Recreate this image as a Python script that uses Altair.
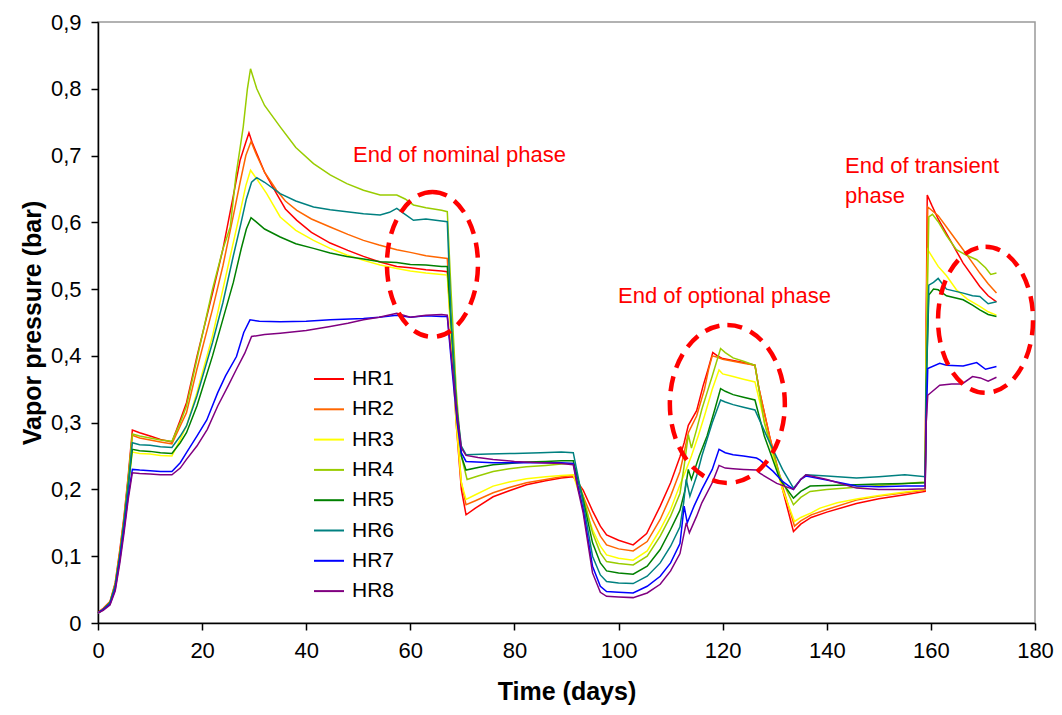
import altair as alt
import pandas as pd

SERIES = ["HR1", "HR2", "HR3", "HR4", "HR5", "HR6", "HR7", "HR8"]
COLORS = ["#FF0000", "#FF6600", "#FFFF00", "#99CC00", "#008000", "#008080", "#0000FF", "#800080"]

T1 = [0, 1, 2.3, 3.3, 4.2, 5.0, 5.8, 6.6, 8, 10, 12, 14.2, 15.8, 17, 19, 22, 24, 26, 27.3, 28.4, 29.0, 29.6, 30.5, 32, 34.3, 36, 38.2, 41, 44.6, 48, 51, 54, 57.4, 60, 63, 66, 67.1, 67.8, 68.8, 69.8, 70.7, 72.5, 75.9, 79, 82.3, 86, 89, 91.3, 92.2, 93.2, 95, 96.5, 97.7, 100, 102.8, 105.4, 108, 110, 111.8, 112.6, 113.4, 115, 116.2, 117.2, 118.1, 119, 120, 122, 124, 126.2, 127, 129, 131.5, 133.6, 135, 137, 140, 145.7, 150, 155, 158.9, 159.1, 159.3, 160.2, 161.4, 163, 166.2, 169.4, 171, 172.6]
V1 = [0.016, 0.022, 0.032, 0.06, 0.11, 0.16, 0.22, 0.289, 0.285, 0.28, 0.275, 0.271, 0.304, 0.33, 0.399, 0.494, 0.56, 0.64, 0.693, 0.72, 0.734, 0.72, 0.703, 0.675, 0.643, 0.62, 0.603, 0.585, 0.569, 0.558, 0.549, 0.541, 0.534, 0.532, 0.529, 0.527, 0.526, 0.44, 0.3, 0.2, 0.162, 0.172, 0.189, 0.198, 0.207, 0.213, 0.217, 0.219, 0.21, 0.199, 0.168, 0.145, 0.132, 0.124, 0.117, 0.134, 0.175, 0.21, 0.249, 0.27, 0.296, 0.318, 0.354, 0.38, 0.405, 0.4, 0.396, 0.393, 0.39, 0.386, 0.35, 0.28, 0.2, 0.137, 0.148, 0.158, 0.166, 0.179, 0.186, 0.192, 0.197, 0.45, 0.641, 0.625, 0.605, 0.583, 0.539, 0.504, 0.49, 0.481]

T2 = [0, 1, 2.3, 3.3, 4.2, 5.0, 5.8, 6.6, 8, 10, 12, 14.2, 15.8, 17, 19, 22, 24, 26, 27.3, 28.4, 29.4, 30.5, 32, 34.3, 36, 38.2, 41, 44.6, 48, 51, 54, 57.4, 60, 63, 66, 67.1, 67.8, 68.8, 69.8, 70.7, 72.5, 75.9, 79, 82.3, 86, 89, 91.3, 92.2, 93.2, 95, 96.5, 97.7, 100, 102.8, 105.5, 108, 110, 111.8, 112.6, 113.4, 115, 116.5, 117.3, 118, 119, 120, 122, 124, 126.2, 127, 129, 131.5, 133.8, 135, 137, 140, 145.7, 150, 155, 158.9, 159.1, 159.4, 161.4, 163, 166.2, 169.4, 171, 172.6]
V2 = [0.015, 0.021, 0.031, 0.058, 0.105, 0.155, 0.215, 0.281, 0.277, 0.274, 0.271, 0.268, 0.295, 0.315, 0.38, 0.47, 0.535, 0.61, 0.66, 0.7, 0.721, 0.7, 0.675, 0.648, 0.632, 0.618, 0.605, 0.593, 0.582, 0.573, 0.566, 0.559, 0.555, 0.55, 0.547, 0.546, 0.45, 0.31, 0.21, 0.177, 0.183, 0.195, 0.203, 0.21, 0.215, 0.219, 0.221, 0.205, 0.19, 0.155, 0.13, 0.117, 0.111, 0.108, 0.122, 0.155, 0.19, 0.227, 0.255, 0.285, 0.31, 0.35, 0.38, 0.40, 0.398, 0.395, 0.392, 0.389, 0.386, 0.35, 0.28, 0.205, 0.145, 0.153, 0.162, 0.17, 0.184, 0.19, 0.195, 0.199, 0.45, 0.623, 0.61, 0.593, 0.559, 0.524, 0.508, 0.494]

T3 = [0, 1, 2.3, 3.3, 4.2, 5.0, 5.8, 6.6, 8, 10, 12, 14.2, 15.8, 17, 19, 22, 24, 26, 27.3, 28.4, 29.3, 30.5, 32.4, 35, 38, 41.4, 44.6, 47.8, 51, 54.2, 57.4, 60, 63, 66, 67.1, 67.8, 68.8, 69.8, 70.7, 72.5, 75.9, 79, 82.3, 86, 89, 91.3, 92.2, 93.2, 95, 96.5, 97.7, 100, 102.8, 105.5, 108, 110, 111.8, 113, 114, 115.3, 116.5, 118, 119.3, 120, 122, 124, 126.2, 127, 129, 131.5, 133.8, 135, 137, 138.7, 142, 146, 150, 155, 158.9, 159.1, 159.4, 161.4, 163, 164.9, 167, 169.4, 171, 172.6]
V3 = [0.015, 0.02, 0.03, 0.055, 0.1, 0.15, 0.205, 0.256, 0.254, 0.253, 0.251, 0.25, 0.275, 0.295, 0.345, 0.43, 0.5, 0.57, 0.615, 0.655, 0.678, 0.665, 0.643, 0.608, 0.588, 0.573, 0.561, 0.551, 0.543, 0.536, 0.531, 0.527, 0.524, 0.522, 0.521, 0.43, 0.3, 0.21, 0.185, 0.192, 0.205, 0.211, 0.216, 0.219, 0.221, 0.222, 0.2, 0.18, 0.14, 0.115, 0.102, 0.097, 0.094, 0.108, 0.14, 0.17, 0.207, 0.23, 0.25, 0.28, 0.31, 0.35, 0.379, 0.373, 0.369, 0.365, 0.361, 0.335, 0.27, 0.2, 0.152, 0.158, 0.165, 0.172, 0.18, 0.186, 0.191, 0.196, 0.2, 0.4, 0.559, 0.534, 0.52, 0.499, 0.485, 0.474, 0.466, 0.461]

T4 = [0, 1, 2.3, 3.3, 4.2, 5.0, 5.8, 6.6, 8, 10, 12, 14.2, 15.8, 17, 19, 22, 24, 25.4, 26.5, 27.9, 28.7, 29.3, 30.5, 32, 35, 38, 41.4, 44.6, 47.8, 51, 54.2, 57.4, 59, 60.6, 63, 66, 67.1, 67.8, 68.8, 69.8, 70.9, 73, 75.9, 79, 82.3, 86, 89, 91.3, 92.2, 93.2, 95, 96.5, 97.7, 100, 102.8, 105.5, 108, 110, 111.8, 112.6, 113.4, 114, 115, 116, 117, 118, 119.6, 120.5, 122, 124, 126.2, 128, 131, 133.6, 135, 136.8, 140, 145, 150, 155, 158.9, 159.1, 159.6, 160.3, 161.4, 163, 164.9, 166.5, 168.8, 170.5, 171.5, 172.6]
V4 = [0.015, 0.021, 0.031, 0.057, 0.105, 0.155, 0.215, 0.283, 0.28, 0.277, 0.274, 0.272, 0.3, 0.325, 0.395, 0.5, 0.56, 0.593, 0.67, 0.743, 0.8, 0.83, 0.8, 0.775, 0.743, 0.712, 0.688, 0.671, 0.658, 0.648, 0.641, 0.641, 0.635, 0.626, 0.622, 0.618, 0.616, 0.5, 0.35, 0.25, 0.215, 0.22, 0.227, 0.231, 0.234, 0.236, 0.238, 0.239, 0.215, 0.19, 0.135, 0.105, 0.092, 0.089, 0.087, 0.1, 0.13, 0.16, 0.194, 0.235, 0.282, 0.262, 0.29, 0.32, 0.345, 0.37, 0.411, 0.405, 0.397, 0.392, 0.386, 0.3, 0.22, 0.177, 0.188, 0.197, 0.2, 0.203, 0.206, 0.209, 0.211, 0.4, 0.608, 0.612, 0.601, 0.58, 0.559, 0.552, 0.544, 0.532, 0.522, 0.524]

T5 = [0, 1, 2.3, 3.3, 4.2, 5.0, 5.8, 6.6, 8, 10, 12, 14.2, 15.8, 17, 19, 22, 24, 26, 27.5, 28.5, 29.4, 30.5, 32, 35, 38, 41.4, 44.6, 47.8, 51, 54.2, 57.4, 60, 63, 66, 67.1, 67.8, 68.8, 69.8, 70.7, 73, 75.9, 79, 82.3, 86, 89, 91.3, 92.2, 93.2, 95, 96.5, 97.7, 100, 102.8, 105.5, 108, 110, 111.8, 112.8, 113.4, 114, 115.5, 117, 118.5, 119.6, 120.5, 122, 124, 126.2, 128, 131, 133.6, 135, 136.8, 140, 145.7, 150, 155, 158.9, 159.1, 159.6, 160.5, 161.4, 163, 166.2, 168, 169.4, 171, 172.6]
V5 = [0.015, 0.02, 0.03, 0.055, 0.1, 0.15, 0.205, 0.26, 0.258, 0.257, 0.255, 0.254, 0.27, 0.285, 0.325, 0.4, 0.455, 0.51, 0.56, 0.59, 0.607, 0.6, 0.59, 0.578, 0.568, 0.561, 0.554, 0.549, 0.545, 0.541, 0.54, 0.537, 0.536, 0.534, 0.534, 0.45, 0.33, 0.25, 0.229, 0.233, 0.237, 0.239, 0.241, 0.242, 0.243, 0.243, 0.215, 0.185, 0.12, 0.09, 0.078, 0.075, 0.073, 0.085, 0.11, 0.14, 0.169, 0.2, 0.23, 0.215, 0.25, 0.28, 0.32, 0.351, 0.347, 0.342, 0.338, 0.334, 0.28, 0.215, 0.187, 0.197, 0.205, 0.206, 0.207, 0.208, 0.209, 0.21, 0.35, 0.491, 0.5, 0.499, 0.49, 0.484, 0.476, 0.469, 0.462, 0.459]

T6 = [0, 1, 2.3, 3.3, 4.2, 5.0, 5.8, 6.6, 8, 10, 12, 14.2, 15.8, 17, 19, 22, 24, 26, 27.5, 28.5, 29.5, 30.5, 32, 35, 38, 41.4, 44.6, 47.8, 51, 54.2, 56, 57.4, 59, 60.6, 63, 66, 67.1, 67.8, 68.8, 69.8, 70.7, 75, 80, 85, 89, 91.3, 92.2, 93.2, 95, 96.5, 97.7, 100, 102.8, 105.5, 108, 110, 111.8, 112.5, 113, 113.7, 115, 116, 118, 119.6, 120.5, 122, 124, 126.2, 129.1, 131.5, 133.6, 135, 136, 140, 145.7, 150, 155, 158.9, 159.1, 159.6, 160.5, 161.4, 163, 166.2, 168, 169.4, 171, 172.6]
V6 = [0.015, 0.02, 0.03, 0.055, 0.1, 0.15, 0.205, 0.27, 0.267, 0.266, 0.264, 0.263, 0.28, 0.295, 0.34, 0.42, 0.48, 0.55, 0.6, 0.635, 0.66, 0.667, 0.66, 0.643, 0.632, 0.623, 0.619, 0.616, 0.613, 0.611, 0.615, 0.621, 0.612, 0.603, 0.605, 0.602, 0.601, 0.46, 0.33, 0.265, 0.252, 0.253, 0.254, 0.255, 0.256, 0.255, 0.22, 0.18, 0.1, 0.072, 0.062, 0.06, 0.059, 0.07, 0.09, 0.115, 0.144, 0.18, 0.215, 0.19, 0.22, 0.25, 0.3, 0.334, 0.331, 0.327, 0.323, 0.319, 0.269, 0.23, 0.202, 0.215, 0.222, 0.22, 0.217, 0.219, 0.222, 0.219, 0.35, 0.506, 0.51, 0.516, 0.5, 0.494, 0.49, 0.489, 0.478, 0.481]

T7 = [0, 1, 2.3, 3.3, 4.2, 5.0, 5.8, 6.6, 8, 10, 12, 14.2, 15.8, 17, 19, 20.9, 23, 24.5, 26.6, 28, 29.2, 31, 35, 40, 44.6, 51, 54, 57.4, 60, 63, 66, 67.1, 68, 69, 69.8, 70.7, 75.9, 80, 85, 89, 91.3, 92.2, 93.2, 95, 96.5, 97.7, 100, 102.8, 105.5, 108, 110, 111.8, 112.6, 113.2, 114.5, 116, 118, 119.3, 120.5, 122, 124, 126.5, 127.2, 129.7, 131.5, 133.6, 135, 136, 140, 145.7, 150, 155, 158.9, 159.1, 159.4, 161.7, 163, 166.2, 168.8, 170.5, 172.6]
V7 = [0.015, 0.02, 0.028, 0.05, 0.095, 0.14, 0.19, 0.23, 0.229, 0.228, 0.227, 0.227, 0.24, 0.255, 0.28, 0.304, 0.345, 0.37, 0.399, 0.435, 0.454, 0.452, 0.451, 0.452, 0.454, 0.456, 0.458, 0.461, 0.458, 0.46, 0.459, 0.459, 0.38, 0.3, 0.255, 0.242, 0.24, 0.24, 0.24, 0.24, 0.239, 0.205, 0.17, 0.085, 0.055, 0.047, 0.046, 0.045, 0.055, 0.07, 0.09, 0.119, 0.175, 0.15, 0.175, 0.2, 0.23, 0.26, 0.255, 0.252, 0.25, 0.247, 0.244, 0.227, 0.212, 0.2, 0.215, 0.22, 0.214, 0.205, 0.204, 0.205, 0.205, 0.3, 0.381, 0.389, 0.386, 0.385, 0.39, 0.38, 0.384]

T8 = [0, 1, 2.3, 3.3, 4.2, 5.0, 5.8, 6.6, 8, 10, 12, 14.2, 15.8, 17, 19, 21, 23, 25, 26.6, 28.2, 29.5, 32, 35, 40, 44.6, 48, 51, 54, 57.4, 60, 63, 66, 67.1, 68, 69, 69.8, 70.7, 73, 75.9, 80, 85, 89, 91.3, 92.2, 93.2, 95, 96.5, 97.7, 100, 102.8, 105.5, 108, 110, 111.8, 113, 113.6, 115, 116, 118, 119.3, 120.5, 122, 124, 126.5, 127.2, 130.4, 133.6, 135, 136, 140, 145.7, 150, 155, 158.9, 159.1, 159.4, 161.7, 164, 166, 168, 169.5, 171, 172.6]
V8 = [0.015, 0.019, 0.027, 0.048, 0.09, 0.135, 0.185, 0.225, 0.224, 0.223, 0.222, 0.222, 0.232, 0.245, 0.265, 0.29, 0.325, 0.355, 0.38, 0.404, 0.429, 0.432, 0.434, 0.438, 0.444, 0.449, 0.454, 0.458, 0.464, 0.458, 0.461, 0.462, 0.461, 0.39, 0.31, 0.262, 0.251, 0.248, 0.245, 0.242, 0.24, 0.239, 0.237, 0.2, 0.165, 0.075, 0.046, 0.04, 0.039, 0.038, 0.045, 0.058, 0.078, 0.104, 0.15, 0.135, 0.16, 0.18, 0.21, 0.236, 0.232, 0.231, 0.23, 0.229, 0.224, 0.209, 0.2, 0.215, 0.222, 0.215, 0.202, 0.2, 0.2, 0.201, 0.3, 0.341, 0.356, 0.358, 0.358, 0.369, 0.367, 0.362, 0.368]

Y_TICKS = [0, 0.1, 0.2, 0.3, 0.4, 0.5, 0.6, 0.7, 0.8, 0.9]
X_TICKS = [0, 20, 40, 60, 80, 100, 120, 140, 160, 180]

NOTE_TEXT = ["End of nominal phase", "End of optional phase", "End of transient", "phase"]
NOTE_DAY = [49.0, 99.9, 143.5, 143.5]
NOTE_P = [0.701, 0.49, 0.684, 0.639]

ELL_DAY = [64.25, 120.9, 170.5]
ELL_P = [0.537, 0.328, 0.454]
ELL_RX = [45.5, 57.5, 47.5]
ELL_RY = [72.5, 79.0, 73.0]

rows = []
for name, ts, vs in zip(SERIES, [T1, T2, T3, T4, T5, T6, T7, T8], [V1, V2, V3, V4, V5, V6, V7, V8]):
    for i, (t, v) in enumerate(zip(ts, vs)):
        rows.append({"series": name, "day": t, "p": v, "ord": i})
df = pd.DataFrame(rows)

FONT = "Liberation Sans"
xs = alt.Scale(domain=[0, 180], nice=False, zero=False)
ys = alt.Scale(domain=[0, 0.9], nice=False)

lines = alt.Chart(df).mark_line(strokeWidth=1.5).encode(
    x=alt.X("day:Q", scale=xs, axis=alt.Axis(values=X_TICKS, title="Time (days)", titlePadding=18,
                                             labelFlush=False)),
    y=alt.Y("p:Q", scale=ys, axis=alt.Axis(
        values=Y_TICKS, title="Vapor pressure (bar)", titlePadding=5, labelFlush=False,
        labelExpr="datum.value == 0 ? '0' : replace(format(datum.value, '.1f'), '.', ',')")),
    color=alt.Color("series:N", scale=alt.Scale(domain=SERIES, range=COLORS),
                    legend=alt.Legend(orient="none", legendX=215, legendY=341, title=None,
                                      symbolType="stroke", symbolSize=900, symbolStrokeWidth=2,
                                      labelFontSize=21, labelFont=FONT, labelColor="#000000",
                                      labelOffset=7, rowPadding=4.3, padding=0)),
    order="ord:Q",
)

notes_df = pd.DataFrame({"text": NOTE_TEXT, "day": NOTE_DAY, "p": NOTE_P})
notes = alt.Chart(notes_df).mark_text(align="left", baseline="middle", fontSize=22,
                                      font=FONT, color="#FF0000").encode(
    x=alt.X("day:Q", scale=xs), y=alt.Y("p:Q", scale=ys), text="text:N")

layers = [lines, notes]
k = 0.5523
for d, p, rx, ry in zip(ELL_DAY, ELL_P, ELL_RX, ELL_RY):
    a = rx / ry
    path = (f"M0,-1 C{k*a:.4f},-1 {a:.4f},-{k} {a:.4f},0 "
            f"C{a:.4f},{k} {k*a:.4f},1 0,1 "
            f"C-{k*a:.4f},1 -{a:.4f},{k} -{a:.4f},0 "
            f"C-{a:.4f},-{k} -{k*a:.4f},-1 0,-1 Z")
    e = alt.Chart(pd.DataFrame({"day": [d], "p": [p]})).mark_point(
        shape=path, size=4 * ry * ry, filled=False, color="#FF0000", opacity=1,
        strokeWidth=4.5, strokeDash=[15, 9]).encode(
        x=alt.X("day:Q", scale=xs), y=alt.Y("p:Q", scale=ys))
    layers.append(e)

chart = alt.layer(*layers).properties(
    width=937, height=601,
    autosize=alt.AutoSizeParams(type="none"),
    padding={"left": 98, "top": 22, "right": 27, "bottom": 92},
    background="white",
).configure_view(stroke="#999999", strokeWidth=1.5).configure_axis(
    grid=False, domainColor="#000000", domainWidth=1.5, tickColor="#000000", tickWidth=1.5,
    tickSize=7, labelFont=FONT, labelFontSize=22, labelColor="#000000", labelPadding=10,
    titleFont=FONT, titleFontSize=25, titleFontWeight="bold", titleColor="#000000",
)

chart.save("out.html", embed_options={"renderer": "svg", "actions": False})
